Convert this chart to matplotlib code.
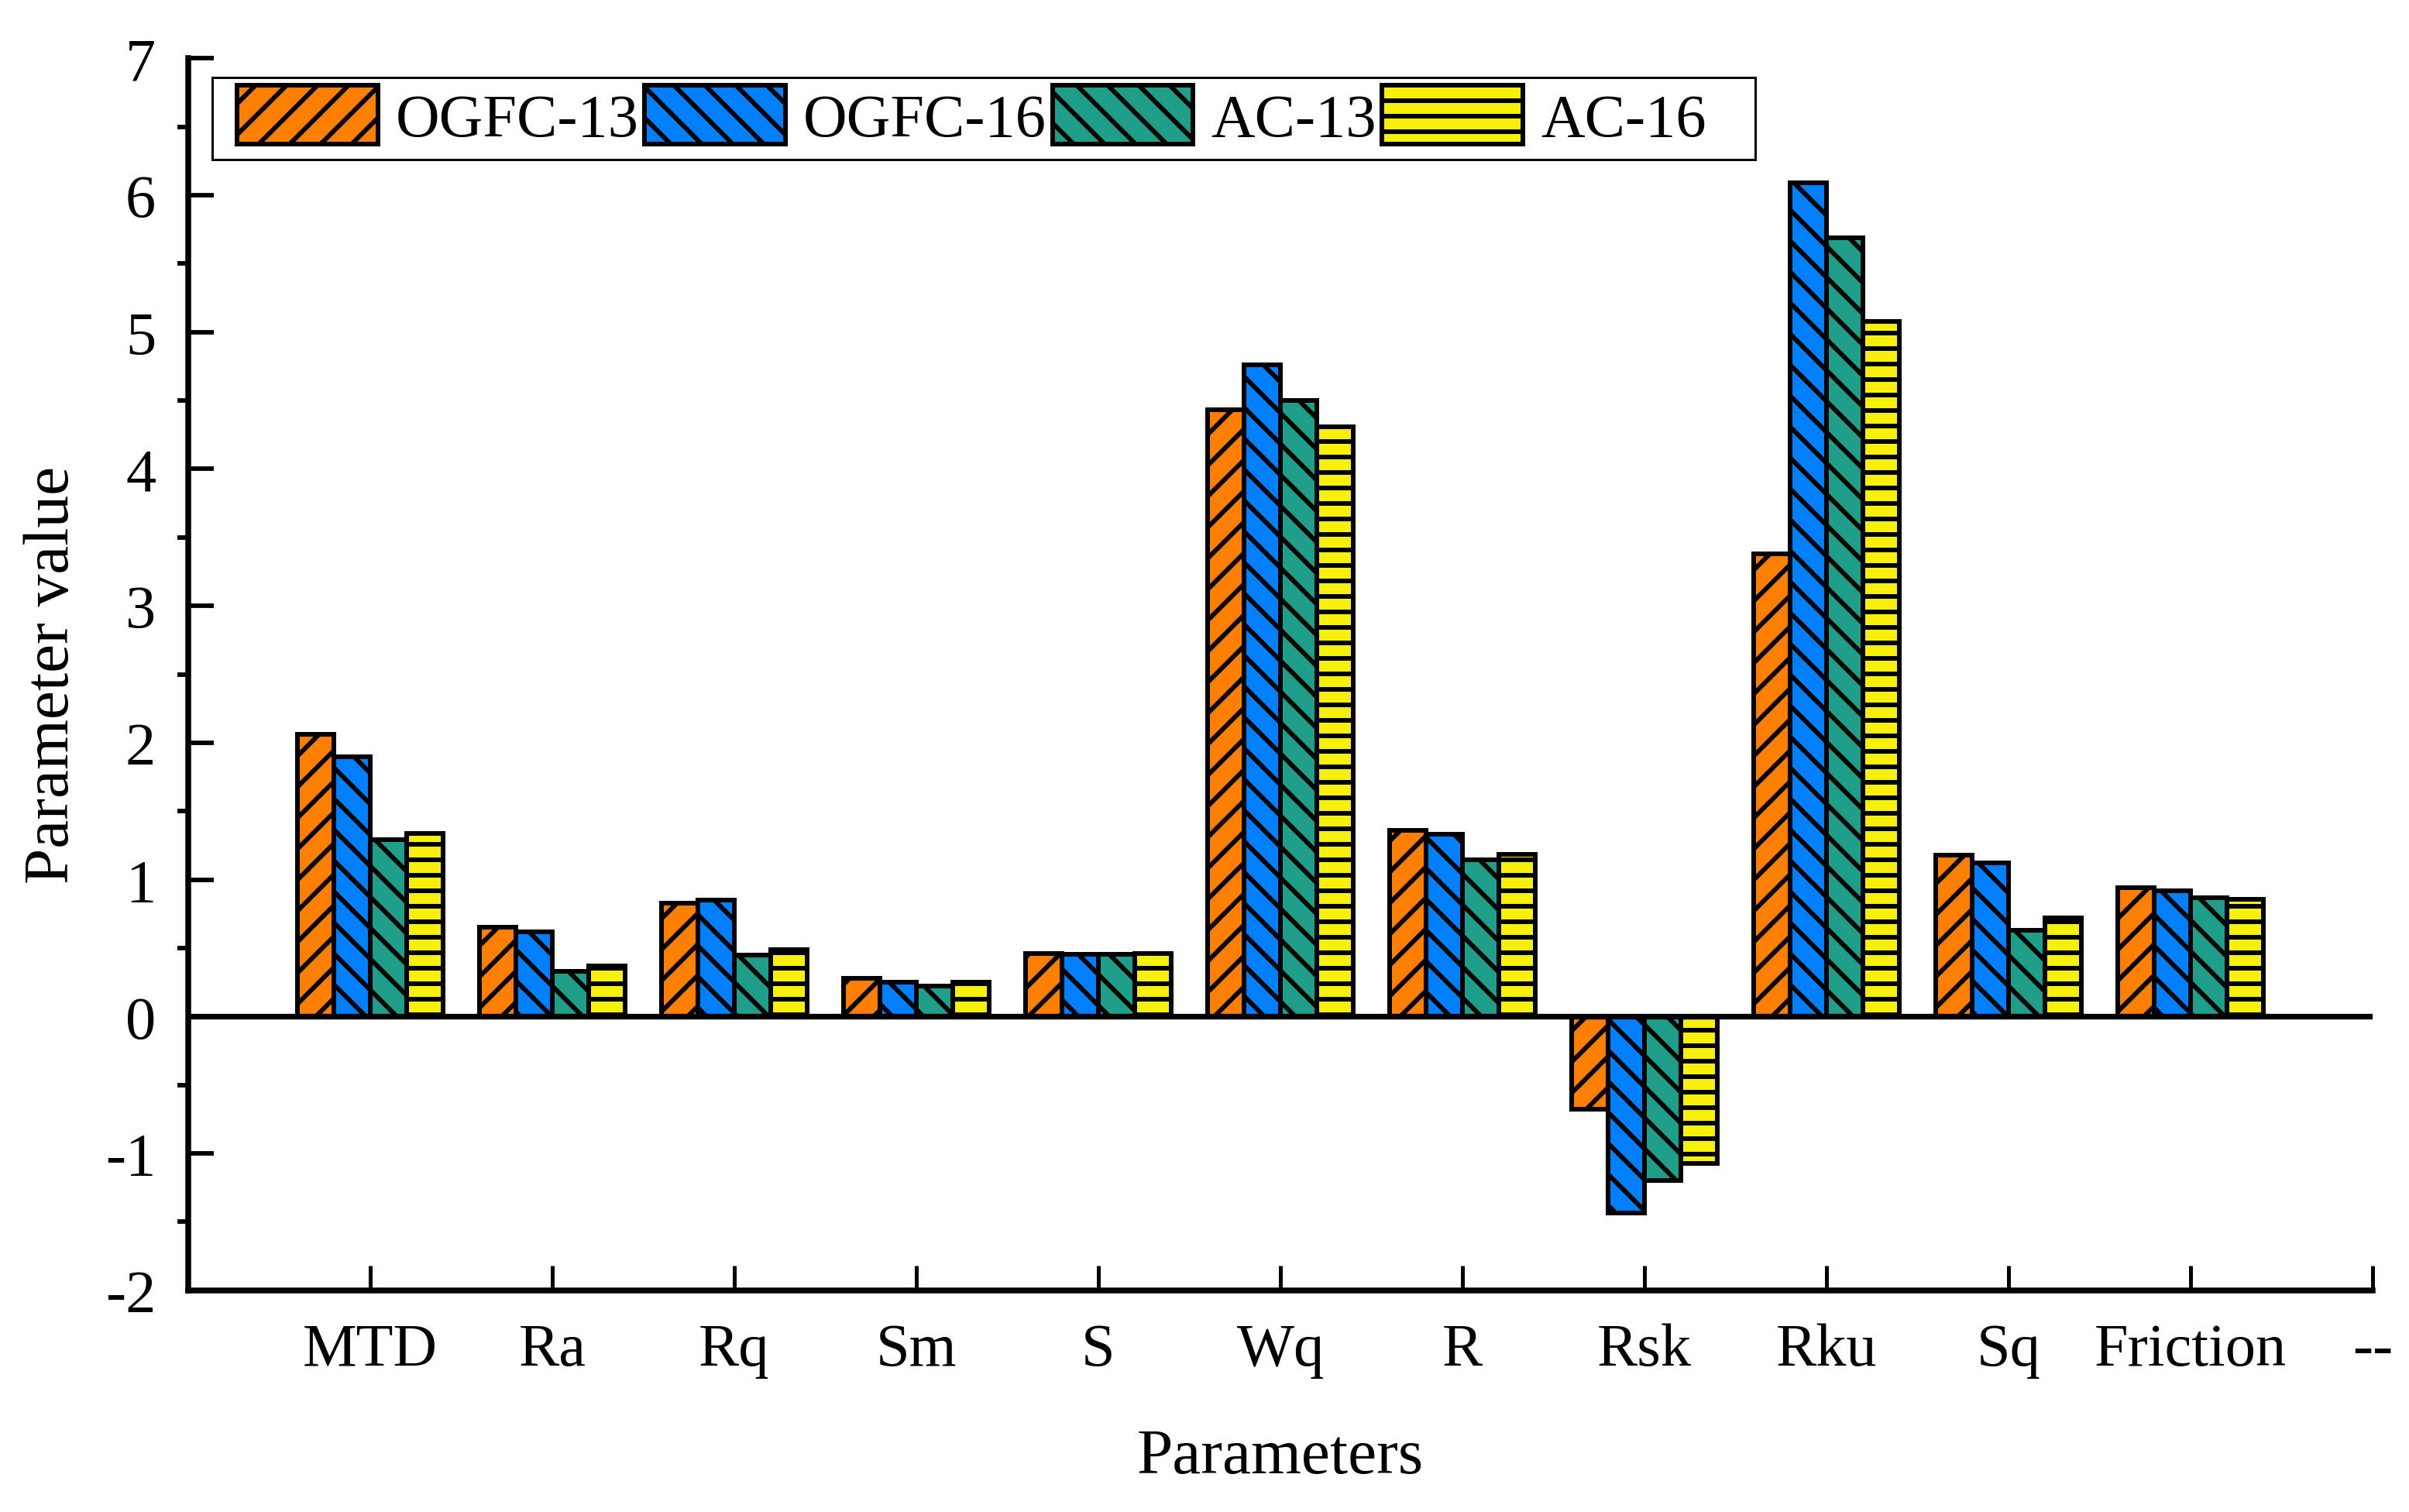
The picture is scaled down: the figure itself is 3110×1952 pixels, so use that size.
import matplotlib
matplotlib.use('Agg')
import matplotlib.pyplot as plt
from matplotlib.patches import Rectangle
from matplotlib.ticker import MultipleLocator
import numpy as np

plt.rcParams['font.family'] = ['Liberation Serif', 'DejaVu Serif']
plt.rcParams['axes.unicode_minus'] = False
plt.rcParams['hatch.linewidth'] = 3.6

# surface texture parameters per mixture
params = ['MTD', 'Ra', 'Rq', 'Sm', 'S', 'Wq', 'R', 'Rsk', 'Rku', 'Sq', 'Friction']
ogfc13 = [2.06, 0.65, 0.83, 0.28, 0.46, 4.43, 1.36, -0.675, 3.38, 1.18, 0.94]
ogfc16 = [1.90, 0.62, 0.85, 0.25, 0.455, 4.76, 1.33, -1.435, 6.09, 1.12, 0.92]
ac13 = [1.29, 0.33, 0.45, 0.22, 0.455, 4.50, 1.145, -1.20, 5.69, 0.63, 0.87]
ac16 = [1.34, 0.37, 0.49, 0.25, 0.46, 4.31, 1.185, -1.075, 5.08, 0.72, 0.855]

names = ['OGFC-13', 'OGFC-16', 'AC-13', 'AC-16']
series = [ogfc13, ogfc16, ac13, ac16]
colors = ['#FF8000', '#0080FF', '#1F9E89', '#F7F00A']
hatches = ['/', '\\', '\\', '-']

dpi = 120
fig = plt.figure(figsize=(3110 / dpi, 1953 / dpi), dpi=dpi)
ax = fig.add_axes([0.0781, 0.1466, 0.9068, 0.8143])

x = np.arange(1, len(params) + 1)
width = 0.2
for i, (vals, name, c, h) in enumerate(zip(series, names, colors, hatches)):
    ax.bar(x + (i - 1.5) * width, vals, width, color=c, edgecolor='black',
           linewidth=3.6, hatch=h, label=name, zorder=2)

ax.axhline(0, color='black', lw=4.4, zorder=3)

ax.set_xlim(0, 12)
ax.set_ylim(-2, 7)
ax.set_xticks(list(x) + [12])
ax.set_xticklabels(params + ['--'])
ax.set_yticks(range(-2, 8))
ax.yaxis.set_minor_locator(MultipleLocator(0.5))
ax.tick_params(axis='both', direction='in', labelsize=47, pad=25)
ax.tick_params(axis='y', which='major', length=20, width=3.5)
ax.tick_params(axis='y', which='minor', length=8.5, width=3.5)
ax.tick_params(axis='x', which='major', length=19, width=3)

ax.spines['top'].set_visible(False)
ax.spines['right'].set_visible(False)
ax.spines['left'].set_linewidth(4.5)
ax.spines['bottom'].set_linewidth(4.5)

ax.set_xlabel('Parameters', fontsize=50, labelpad=39)
ax.set_ylabel('Parameter value', fontsize=50, labelpad=18)

leg = ax.legend(loc='upper left', bbox_to_anchor=(0.0188, 0.9845), ncol=4,
                fontsize=47, frameon=False, borderaxespad=0, borderpad=0.13,
                handlelength=2.32, handleheight=1.11, handletextpad=0.29,
                columnspacing=0.1)

# legend frame with wider side margins, as in the original
fig.patches.append(Rectangle((274 / 3110, 1 - 207 / 1953), 1992 / 3110, 106 / 1953,
                             transform=fig.transFigure, fill=False,
                             edgecolor='black', linewidth=1.8, zorder=5))

fig.savefig('out.png', dpi=dpi)
